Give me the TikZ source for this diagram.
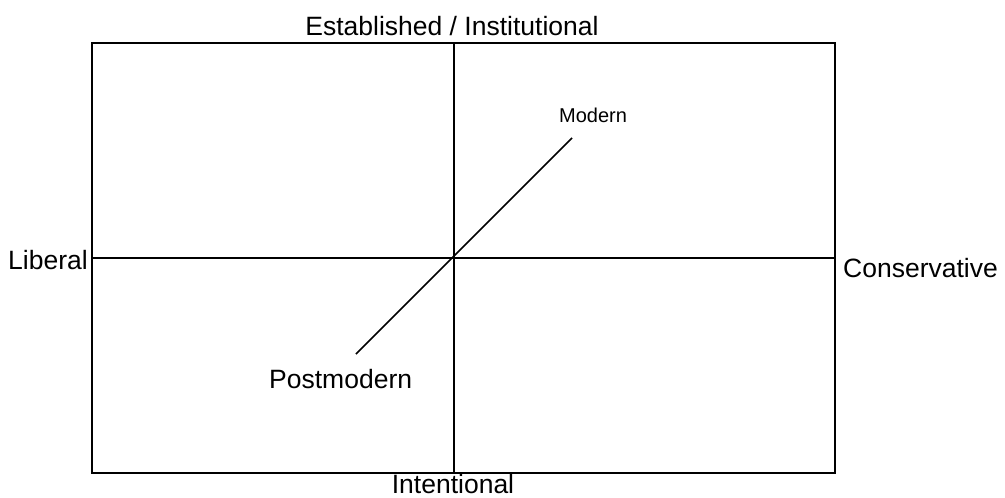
\documentclass[tikz,border=0pt]{standalone}
\usepackage{fontspec}
\setmainfont{Liberation Sans}
\usetikzlibrary{positioning, calc}

\begin{document}
\begin{tikzpicture}[
    x=1pt, y=-1pt,
    axis/.style={line width=1.6pt, black},
    label/.style={inner sep=0pt, font=\fontsize{26.5}{30}\selectfont},
    small/.style={inner sep=0pt, font=\fontsize{20}{24}\selectfont}
]
\useasboundingbox (0,0) rectangle (1005,498);

%% Frame and axes
\coordinate (tl) at (92,43);
\coordinate (br) at (835,473);
\coordinate (top) at (454,43);
\coordinate (bot) at (454,473);
\coordinate (lft) at (92,258);
\coordinate (rgt) at (835,258);
\draw[axis] (tl) rectangle (br);
\draw[axis] (top) -- (bot);
\draw[axis] (lft) -- (rgt);

%% Diagonal
\coordinate (pm_end) at (356,354);
\coordinate (m_end) at (572,138);
\draw[axis] (pm_end) -- (m_end);

%% Labels
\node[label, anchor=base] (est) at (452,35) {Established / Institutional};
\node[label, anchor=base] (int) at (453,493) {Intentional};
\node[label, anchor=base east] (lib) at (88,269) {Liberal};
\node[label, anchor=base west] (con) at (843,277) {Conservative};
\node[small, anchor=base west] (mod) at (559,122) {Modern};
\node[label, anchor=base west] (pmod) at (269,388) {Postmodern};

\end{tikzpicture}
\end{document}
